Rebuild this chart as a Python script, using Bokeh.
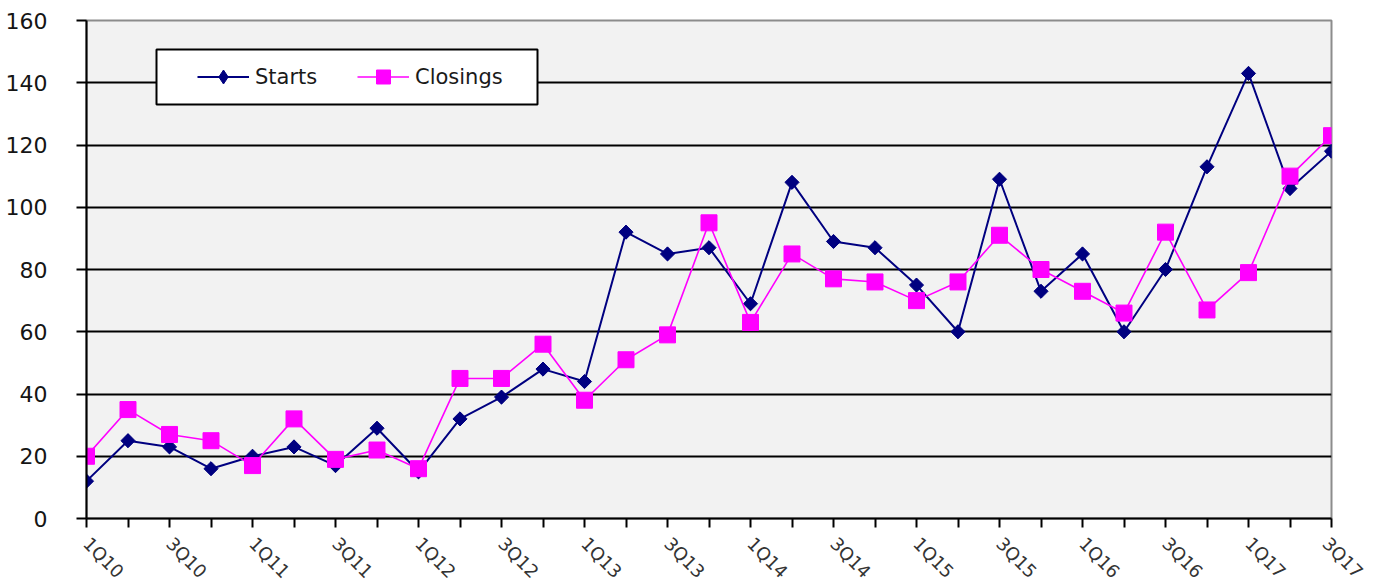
import numpy as np
from bokeh.plotting import figure
from bokeh.models import Range1d, FixedTicker, Legend, LegendItem, BoxAnnotation
from bokeh.embed import file_html
from bokeh.resources import INLINE

quarters = ["1Q10", "2Q10", "3Q10", "4Q10", "1Q11", "2Q11", "3Q11", "4Q11",
            "1Q12", "2Q12", "3Q12", "4Q12", "1Q13", "2Q13", "3Q13", "4Q13",
            "1Q14", "2Q14", "3Q14", "4Q14", "1Q15", "2Q15", "3Q15", "4Q15",
            "1Q16", "2Q16", "3Q16", "4Q16", "1Q17", "2Q17", "3Q17"]
starts = [12, 25, 23, 16, 20, 23, 17, 29, 15, 32, 39, 48, 44, 92, 85, 87,
          69, 108, 89, 87, 75, 60, 109, 73, 85, 60, 80, 113, 143, 106, 118]
closings = [20, 35, 27, 25, 17, 32, 19, 22, 16, 45, 45, 56, 38, 51, 59, 95,
            63, 85, 77, 76, 70, 76, 91, 80, 73, 66, 92, 67, 79, 110, 123]
y_ticks = [0, 20, 40, 60, 80, 100, 120, 140, 160]

xs = list(range(len(quarters)))

p = figure(frame_width=1245, frame_height=498, output_backend="svg",
           toolbar_location=None, x_range=Range1d(0, len(quarters) - 1),
           y_range=Range1d(0, 160),
           min_border_left=86, min_border_top=20, min_border_right=36,
           min_border_bottom=64)
p.background_fill_color = "#F2F2F2"
p.border_fill_color = "white"
p.outline_line_color = "#8C8C8C"
p.outline_line_width = 2

# axes
p.xaxis.ticker = FixedTicker(ticks=xs)
p.xaxis.major_label_overrides = {i: (q if i % 2 == 0 else "") for i, q in enumerate(quarters)}
p.xaxis.major_label_orientation = -np.pi / 4
p.xaxis.major_label_text_font = "DejaVu Sans"
p.xaxis.major_label_text_font_size = "18px"
p.xaxis.major_label_text_color = "#333333"
p.xaxis.major_label_standoff = 13
p.xaxis.major_tick_out = 9
p.xaxis.major_tick_in = 0
p.xaxis.minor_tick_line_color = None

p.yaxis.ticker = FixedTicker(ticks=y_ticks)
p.yaxis.major_label_text_font = "DejaVu Sans"
p.yaxis.major_label_text_font_size = "22px"
p.yaxis.major_label_text_color = "#151515"
p.yaxis.major_label_standoff = 29
p.yaxis.major_tick_out = 10
p.yaxis.major_tick_in = 0
p.yaxis.minor_tick_line_color = None

for ax in (p.xaxis, p.yaxis):
    ax.axis_line_color = "black"
    ax.axis_line_width = 2
    ax.major_tick_line_color = "black"
    ax.major_tick_line_width = 2

p.xgrid.grid_line_color = None
p.ygrid.ticker = FixedTicker(ticks=y_ticks[1:-1])
p.ygrid.grid_line_color = "black"
p.ygrid.grid_line_width = 2

# series
l1 = p.line(xs, starts, line_color="#000080", line_width=2)
# diamond marker (used by the legend swatch), covered by the rotated squares
d1 = p.scatter(xs, starts, marker="diamond", size=13,
               fill_color="#000080", line_color="#000080")
m1 = p.scatter(xs, starts, marker="square", angle=np.pi / 4, size=10,
               fill_color="#000080", line_color="#000080")
l2 = p.line(xs, closings, line_color="#FF00FF", line_width=1.6)
m2 = p.scatter(xs, closings, marker="square", size=16,
               fill_color="#FF00FF", line_color="#FF00FF")

# legend frame
box = BoxAnnotation(left=70, right=451, bottom=414, top=469,
                    left_units="screen", right_units="screen",
                    bottom_units="screen", top_units="screen",
                    fill_color="white", fill_alpha=1,
                    line_color="black", line_width=2, line_alpha=1)
p.add_layout(box)

legend = Legend(items=[LegendItem(label="Starts", renderers=[l1, d1]),
                       LegendItem(label="Closings", renderers=[l2, m2])],
                orientation="horizontal", location=(111, 424))
legend.margin = 0
legend.padding = 0
legend.glyph_width = 52
legend.glyph_height = 35
legend.label_height = 35
legend.label_width = 80
legend.label_standoff = 6
legend.spacing = 22
legend.label_text_font = "DejaVu Sans"
legend.label_text_font_size = "21px"
legend.label_text_color = "#1a1a1a"
legend.border_line_color = None
legend.background_fill_alpha = 0
p.add_layout(legend, "center")

open("out.html", "w").write(file_html(p, INLINE))
